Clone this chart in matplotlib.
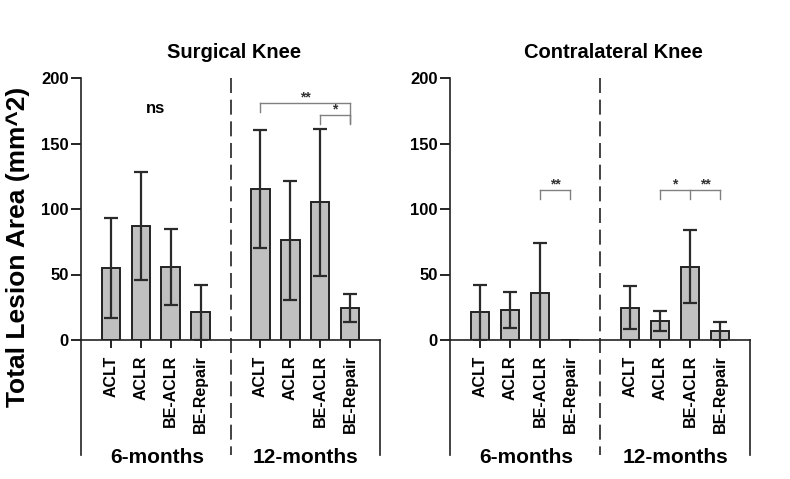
import matplotlib
matplotlib.use("Agg")
import matplotlib.pyplot as plt
import numpy as np

plt.rcParams['font.family'] = ['Liberation Sans', 'DejaVu Sans']
plt.rcParams['font.weight'] = 'bold'

groups = ["ACLT", "ACLR", "BE-ACLR", "BE-Repair"]
timepoints = ["6-months", "12-months"]
yticks = [0, 50, 100, 150, 200]

surg_6 = [55, 87, 56, 21]
surg_6_sd = [38, 41, 29, 21]
surg_12 = [115, 76, 105, 24.5]
surg_12_sd = [45, 45.5, 56, 10.5]

contra_6 = [21, 22.6, 35.6, 0]
contra_6_sd = [21, 13.7, 38.5, 0]
contra_12 = [24.7, 14.8, 56, 6.6]
contra_12_sd = [16.4, 7.6, 27.7, 7]

W, H = 790, 479
fig = plt.figure(figsize=(W / 100, H / 100), dpi=100)

pos6 = np.array([1, 2, 3, 4])
pos12 = np.array([6, 7, 8, 9])

def px2fig(x0, y0, x1, y1):
    return [x0 / W, 1 - y1 / H, (x1 - x0) / W, (y1 - y0) / H]

def make_panel(rect, v6, s6, v12, s12, title, title_x):
    ax = fig.add_axes(rect)
    for pos, v, s in ((pos6, v6, s6), (pos12, v12, s12)):
        v = np.asarray(v, float)
        s = np.asarray(s, float)
        ax.bar(pos, v, width=0.62, color="#c0c0c0", edgecolor="#222222", linewidth=1.4, zorder=2)
        m = s > 0
        ax.errorbar(pos[m], v[m], yerr=s[m], fmt="none", ecolor="#2a2a2a", elinewidth=1.6,
                    capsize=4.7, capthick=1.6, zorder=3)
    ax.set_xlim(0, 10)
    ax.set_ylim(0, 200)
    ax.set_yticks(yticks)
    ax.set_xticks(list(pos6) + list(pos12))
    ax.set_xticklabels(groups + groups, rotation=90, fontsize=11.5, fontweight='bold')
    ax.tick_params(axis='x', length=6, width=1.2, pad=5, direction='out')
    ax.tick_params(axis='y', length=7, width=1.2, pad=2, direction='out', labelsize=12)
    for lab in ax.get_yticklabels():
        lab.set_fontweight('bold')
    for sp in ("top", "right"):
        ax.spines[sp].set_visible(False)
    for sp in ("left", "bottom"):
        ax.spines[sp].set_linewidth(1.2)
        ax.spines[sp].set_color("#222222")
    trans = ax.get_xaxis_transform()
    lowy = -0.44
    ax.plot([0, 0], [0, lowy], transform=trans, color="#222222", lw=1.2, clip_on=False)
    ax.plot([10, 10], [0, lowy], transform=trans, color="#222222", lw=1.2, clip_on=False)
    ax.plot([5, 5], [1.0, lowy], transform=trans, color="#222222", lw=1.2,
            dashes=(9, 4), clip_on=False)
    ax.text(2.55, -0.45, timepoints[0], transform=trans, ha='center', va='center',
            fontsize=15, fontweight='bold')
    ax.text(7.5, -0.45, timepoints[1], transform=trans, ha='center', va='center',
            fontsize=15, fontweight='bold')
    fig.text(title_x / W, 1 - 52 / H, title, ha='center', va='center',
             fontsize=14.5, fontweight='bold')
    return ax

def bracket(ax, xs, y, lows, color="#808080"):
    ax.plot([xs[0], xs[-1]], [y, y], color=color, lw=1.0, clip_on=False, zorder=4)
    for x, lo in zip(xs, lows):
        ax.plot([x, x], [y, lo], color=color, lw=1.0, clip_on=False, zorder=4)

def stars(ax, x, y, s):
    ax.text(x, y, s, ha='center', va='bottom', fontsize=10, color="#333333", fontweight='bold')

ax1 = make_panel(px2fig(81, 78, 380, 340), surg_6, surg_6_sd, surg_12, surg_12_sd,
                 "Surgical Knee", 234)
ax2 = make_panel(px2fig(450, 78, 750, 340), contra_6, contra_6_sd, contra_12, contra_12_sd,
                 "Contralateral Knee", 613)

ax1.text(2.5, 177, "ns", ha='center', va='center', fontsize=12, fontweight='bold')
bracket(ax1, [6, 9], 181, [174, 166])
stars(ax1, 7.5, 180, "**")
bracket(ax1, [8, 9], 172, [165, 165])
stars(ax1, 8.5, 171, "*")

bracket(ax2, [3, 4], 114.5, [108, 108])
stars(ax2, 3.5, 113.5, "**")
bracket(ax2, [7, 8, 9], 114.5, [108, 108, 108])
stars(ax2, 7.5, 113.5, "*")
stars(ax2, 8.5, 113.5, "**")

fig.text(18 / W, 1 - 247 / H, "Total Lesion Area (mm^2)", rotation=90, ha='center',
         va='center', fontsize=19, fontweight='bold')

fig.savefig("out.png", dpi=100)
